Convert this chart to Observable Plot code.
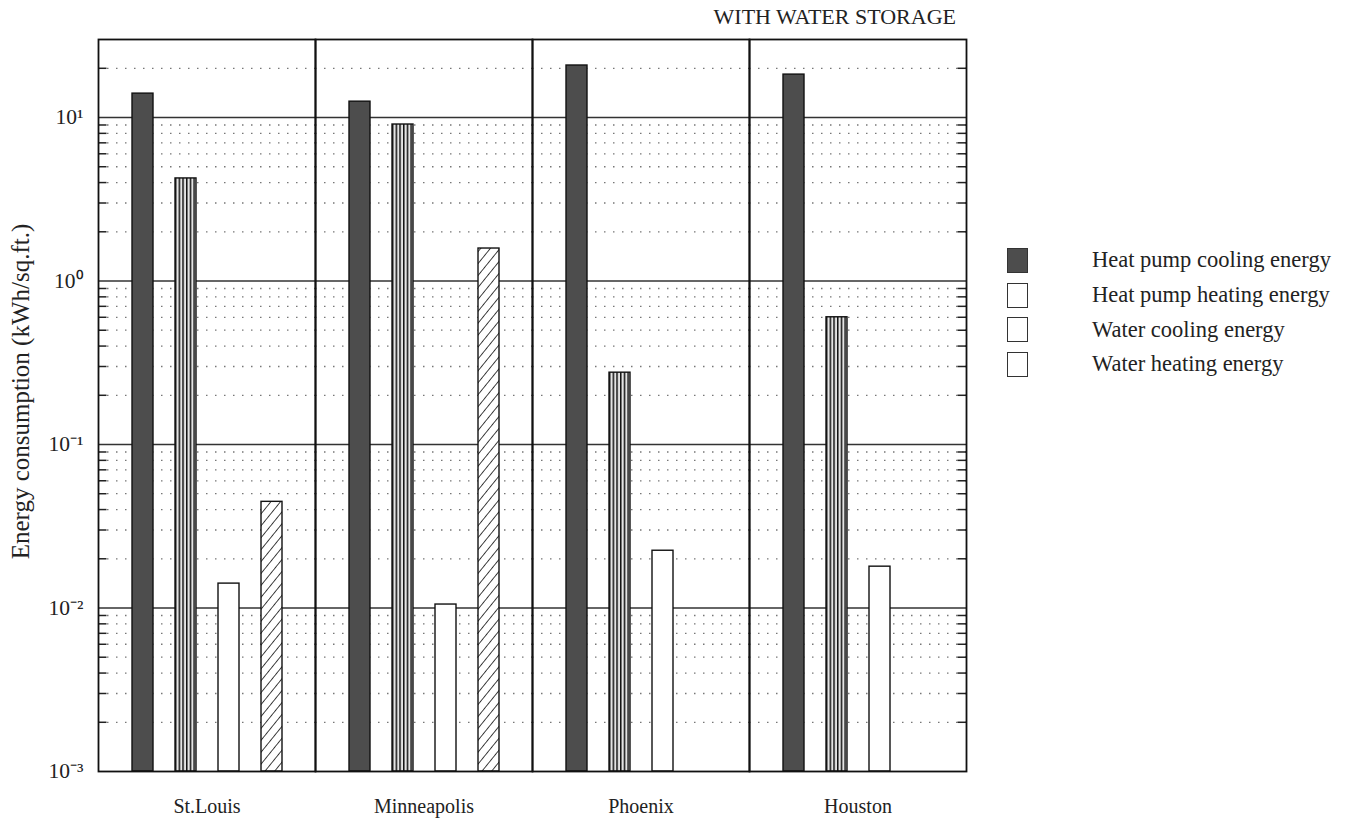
<!DOCTYPE html>
<html>
<head>
<meta charset="utf-8">
<script src="https://cdn.jsdelivr.net/npm/d3@7"></script>
<script src="https://cdn.jsdelivr.net/npm/@observablehq/plot@0.6"></script>
<style>
  body { margin: 0; background: #fff; font-family: "Liberation Serif", "Times New Roman", serif; color: #222; }
  #wrap { position: relative; width: 1348px; height: 824px; }
  #title { position: absolute; right: 392px; top: 6px; font-size: 22px; line-height: 22px; white-space: nowrap; }
  #legend { position: absolute; left: 1007px; top: 243px; font-size: 22.5px; }
  .row { display: flex; align-items: center; height: 34.7px; white-space: nowrap; }
  .sw { width: 21px; height: 25px; border: 1.2px solid #333; box-sizing: border-box; margin-right: 64px; background: #fff; }
</style>
</head>
<body>
<div id="wrap">
  <div id="chart"></div>
  <div id="title">WITH WATER STORAGE</div>
  <div id="legend"></div>
</div>
<script>
// ---- data ----
const cities = ["St.Louis", "Minneapolis", "Phoenix", "Houston"];
const series = ["Heat pump cooling energy", "Heat pump heating energy", "Water cooling energy", "Water heating energy"];
const hpCooling    = [14.0, 12.5, 20.8, 18.3];
const hpHeating    = [4.24, 9.06, 0.275, 0.60];
const waterCooling = [0.0141, 0.0105, 0.0224, 0.0179];
const waterHeating = [0.0446, 1.58, null, null];
const yTicks = [1e-3, 1e-2, 1e-1, 1, 10];
const yTickLabels = ["10\u207B\u00B3", "10\u207B\u00B2", "10\u207B\u00B9", "10\u2070", "10\u00B9"];
const yLabel = "Energy consumption (kWh/sq.ft.)";

const seriesValues = [hpCooling, hpHeating, waterCooling, waterHeating];
const rows = [];
cities.forEach((c, i) => seriesValues.forEach((arr, j) => {
  if (arr[i] != null) rows.push({city: c, series: series[j], value: arr[i]});
}));

// minor log ticks (2..9 per decade)
const minor = [];
for (let e = -3; e <= 1; e++) for (let k = 2; k <= 9; k++) { const v = k * Math.pow(10, e); if (v < 29) minor.push(v); }
const facetW = (1348 - 97 - 381) / 4;

const chart = Plot.plot({
  width: 1348, height: 824,
  marginLeft: 97, marginRight: 381, marginTop: 39, marginBottom: 53,
  style: {fontFamily: '"Liberation Serif", "Times New Roman", serif', fontSize: "20px", background: "white", color: "#222", overflow: "visible"},
  fx: {domain: cities, padding: 0},
  x: {domain: series, paddingInner: 0.52, paddingOuter: 0.76, axis: null},
  y: {type: "log", domain: [1e-3, 30]},
  color: {domain: series, range: ["#4d4d4d", "url(#vstripes)", "white", "url(#hatch)"]},
  marks: [
    Plot.ruleY(minor, {stroke: "#777", strokeWidth: 1.3, strokeDasharray: "1.5 7.5"}),
    Plot.ruleY(yTicks.slice(1), {stroke: "#333", strokeWidth: 1.6}),
    Plot.tickY(minor, {y: d => d, fx: () => cities[0], stroke: "#222", strokeWidth: 1.5, insetRight: facetW - 9}),
    Plot.tickY(minor, {y: d => d, fx: () => cities[3], stroke: "#222", strokeWidth: 1.5, insetLeft: facetW - 9}),
    Plot.barY(rows, {fx: "city", x: "series", y1: 1e-3, y2: "value", fill: "series", stroke: "#111", strokeWidth: 1.4}),
    Plot.frame({stroke: "#111", strokeWidth: 1.8}),
    Plot.axisY({ticks: yTicks, tickFormat: d => yTickLabels[yTicks.indexOf(d)], tickSize: 0, tickPadding: 15,
      fontSize: 21.5, label: null}),
    Plot.text([yLabel], {fx: () => cities[0], text: d => d, frameAnchor: "left", textAnchor: "middle", rotate: -90,
      dx: -78, dy: -14, fontSize: 25, fill: "#222"}),
    Plot.axisFx({anchor: "bottom", tickSize: 0, tickPadding: 27, fontSize: 20, label: null})
  ]
});

d3.select(chart).insert("defs", ":first-child").html(`
  <pattern id="vstripes" patternUnits="userSpaceOnUse" width="3.7" height="10">
    <rect width="3.7" height="10" fill="#e4e4e4"></rect>
    <rect x="0" width="1.5" height="10" fill="#111"></rect>
  </pattern>
  <pattern id="hatch" patternUnits="userSpaceOnUse" width="7.5" height="7.5" patternTransform="rotate(39)">
    <rect width="7.5" height="7.5" fill="white"></rect>
    <line x1="0" y1="0" x2="0" y2="7.5" stroke="#111" stroke-width="1.6"></line>
  </pattern>`);

document.getElementById("chart").appendChild(chart);

// legend
const legendFill = ["#4d4d4d", "#fff", "#fff", "#fff"];
const legend = d3.select("#legend");
series.forEach((s, i) => {
  const r = legend.append("div").attr("class", "row");
  r.append("div").attr("class", "sw").style("background", legendFill[i]);
  r.append("span").text(s);
});
</script>
</body>
</html>
